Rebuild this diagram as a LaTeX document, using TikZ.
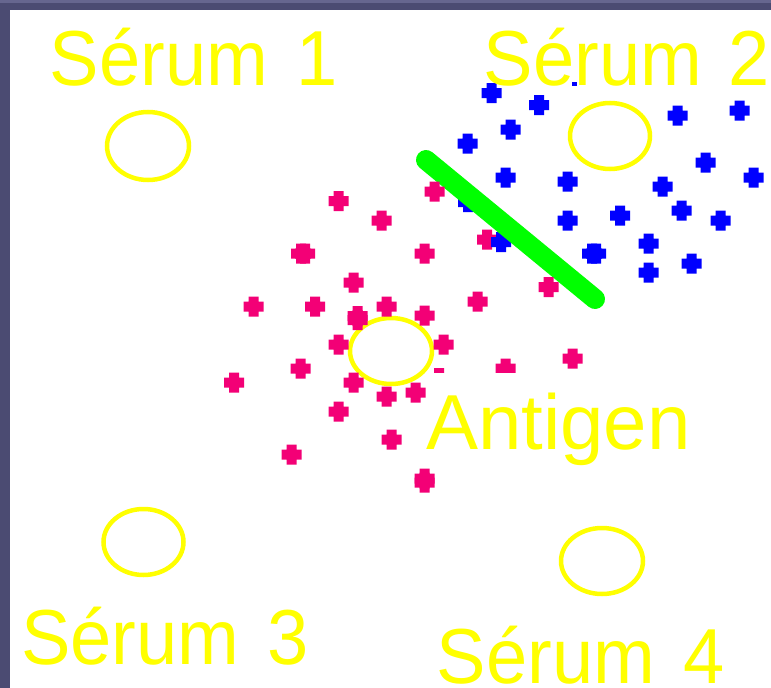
\documentclass[tikz,border=0pt]{standalone}
\usepackage{fontspec}
\setmainfont{Liberation Sans}
\newfontfamily\narrowlbl[FakeStretch=0.95]{Liberation Sans}
\definecolor{slide}{HTML}{4B4B72}
\definecolor{slidelight}{HTML}{66668F}
\definecolor{ylw}{HTML}{FFFF00}
\definecolor{blu}{HTML}{0000FF}
\definecolor{mag}{HTML}{F30076}
\definecolor{grn}{HTML}{00FF00}
\newcommand{\blob}[3]{\fill[#1, shift={(#2,#3)}] (-10,-5) -- (-5,-5) -- (-5,-10) -- (5,-10) -- (5,-5) -- (10,-5) -- (10,5) -- (5,5) -- (5,10) -- (-5,10) -- (-5,5) -- (-10,5) -- cycle;}
\tikzset{
  lbl/.style={text=ylw, font=\fontsize{78}{78}\selectfont, inner sep=0pt, anchor=base west},
  serumlbl/.style={lbl, font=\narrowlbl\fontsize{78}{78}\selectfont},
  ring/.style={draw=ylw, line width=4.5pt},
  bar/.style={draw=grn, line width=20pt, line cap=round}
}
\begin{document}
\begin{tikzpicture}[x=1pt,y=-1pt]
\useasboundingbox (0,0) rectangle (771,688);
% slide background
\fill[slide] (0,0) rectangle (771,688);
\fill[slidelight] (0,0) rectangle (771,3);
\fill[white] (10,10) rectangle (771,688);
% serum wells
\draw[ring] (148,146) ellipse [x radius=41, y radius=34];
\draw[ring] (610,136) ellipse [x radius=40, y radius=33];
\draw[ring] (143.5,542) ellipse [x radius=40, y radius=33];
\draw[ring] (602,561) ellipse [x radius=41, y radius=33];
\draw[ring] (391,351) ellipse [x radius=41, y radius=33];
% magenta blob under the blue one
\blob{mag}{487}{239.5}
% blue precipitate
\foreach \a/\b in {491.5/93,539/105,510.5/129.5,467.5/143.5,677.5/115.5,739.5/110.5,705.5/162.5,753.5/177.5,505.5/177.5,567.5/181.5,662.5/186.5,681.5/210.5,720.5/220.5,620/215.5,567.5/220.5,648.5/243.5,592/253.5,596/253.5,691.5/263.5,648.5/272.5,501/242,468/202}{
  \blob{blu}{\a}{\b}
}
\fill[blu] (572,82) rectangle (577,86);
% precipitation line
\coordinate (b1) at (426,160);
\coordinate (b2) at (595,299);
\draw[bar] (b1) -- (b2);
% magenta precipitate
\foreach \a/\b in {338.5/201,381.5/220.5,434.5/191.5,301/253.5,305/253.5,424.5/253.5,353.5/282.5,253.5/306.5,315/306.5,386.5/306.5,357.5/316,357.5/320,424.5/315.5,477.5/301.5,338.5/344.5,443.5/344.5,300.5/368.5,234/382.5,353.5/382.5,386.5/396.5,415.5/392.5,338.5/411.5,391.5/439.5,291.5/454.5,424.5/478.5,424.5/482.5,548.5/287,572.5/358.5,505.5/368.5,439/378}{
  \blob{mag}{\a}{\b}
}
% labels
\node[serumlbl] (s1) at (49.5,85) {Sérum\hspace{8pt} 1};
\node[serumlbl] (s2) at (483.5,85) {Sérum\hspace{6pt} 2};
\node[serumlbl] (s3) at (21,664) {Sérum\hspace{8pt} 3};
\node[serumlbl] (s4) at (436.5,683) {Sérum\hspace{8pt} 4};
\node[lbl, fill=white, text height=76pt, text depth=16pt, inner xsep=0pt] (ag) at (426,449) {Antigen};
\end{tikzpicture}
\end{document}
